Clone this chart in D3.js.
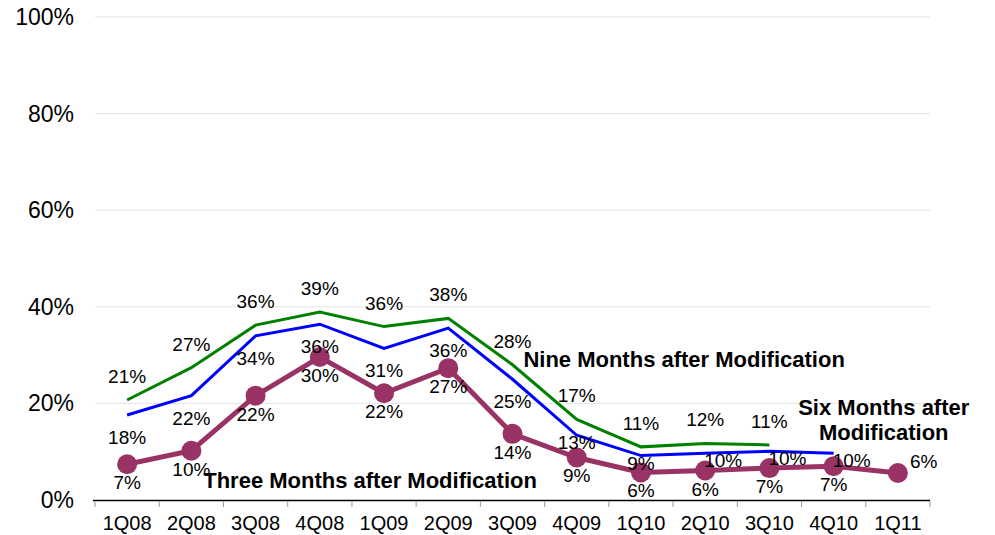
<!DOCTYPE html>
<html>
<head>
<meta charset="utf-8">
<script src="https://cdn.jsdelivr.net/npm/d3@7"></script>
<style>
  body { margin: 0; background: #fff; }
  svg { font-family: Arial, "Liberation Sans", sans-serif; }
</style>
</head>
<body>
<svg></svg>
<script>
const width = 995;
const height = 535;

// Data
const quarters = ["1Q08", "2Q08", "3Q08", "4Q08", "1Q09", "2Q09", "3Q09", "4Q09", "1Q10", "2Q10", "3Q10", "4Q10", "1Q11"];
const nineMonths = [0.207, 0.274, 0.362, 0.389, 0.359, 0.376, 0.28, 0.167, 0.11, 0.117, 0.114];
const sixMonths = [0.176, 0.216, 0.34, 0.364, 0.314, 0.356, 0.25, 0.134, 0.092, 0.097, 0.101, 0.097];
const threeMonths = [0.074, 0.102, 0.216, 0.296, 0.221, 0.273, 0.137, 0.088, 0.057, 0.061, 0.066, 0.07, 0.056];
const yTicks = [0, 0.2, 0.4, 0.6, 0.8, 1.0];

const svg = d3.select("svg")
  .attr("width", width)
  .attr("height", height);

const x = d3.scaleBand()
  .domain(quarters)
  .range([95, 930]);

const y = d3.scaleLinear()
  .domain([0, 1])
  .range([500, 17]);

const pct = d3.format(".0%");

// gridlines
svg.append("g")
  .selectAll("line")
  .data(yTicks.filter(d => d > 0))
  .enter().append("line")
  .attr("x1", 95)
  .attr("x2", 930)
  .attr("y1", d => y(d))
  .attr("y2", d => y(d))
  .attr("stroke", "#e3e3e3")
  .attr("stroke-width", 1);

// y axis labels
svg.append("g")
  .selectAll("text")
  .data(yTicks)
  .enter().append("text")
  .attr("x", 74)
  .attr("y", d => y(d) + 8)
  .attr("text-anchor", "end")
  .attr("font-size", 23)
  .attr("fill", "#000")
  .text(d => pct(d));

// x axis
svg.append("line")
  .attr("x1", 93).attr("x2", 930)
  .attr("y1", 500.5).attr("y2", 500.5)
  .attr("stroke", "#000")
  .attr("stroke-width", 1.5);

const bounds = quarters.map(q => x(q)).concat([x.range()[1]]);
svg.append("g")
  .selectAll("line")
  .data(bounds)
  .enter().append("line")
  .attr("x1", d => d).attr("x2", d => d)
  .attr("y1", 501).attr("y2", 507)
  .attr("stroke", "#999");

svg.append("g")
  .selectAll("text")
  .data(quarters)
  .enter().append("text")
  .attr("x", d => x(d) + x.bandwidth() / 2)
  .attr("y", 530)
  .attr("text-anchor", "middle")
  .attr("font-size", 20)
  .attr("fill", "#000")
  .text(d => d);

const cx = i => x(quarters[i]) + x.bandwidth() / 2;

const line = d3.line()
  .x((d, i) => cx(i))
  .y(d => y(d));

// series lines
svg.append("path")
  .datum(nineMonths)
  .attr("fill", "none")
  .attr("stroke", "#008000")
  .attr("stroke-width", 3)
  .attr("d", line);

svg.append("path")
  .datum(sixMonths)
  .attr("fill", "none")
  .attr("stroke", "#0000ff")
  .attr("stroke-width", 3)
  .attr("d", line);

svg.append("path")
  .datum(threeMonths)
  .attr("fill", "none")
  .attr("stroke", "#993366")
  .attr("stroke-width", 5)
  .attr("d", line);

svg.append("g")
  .selectAll("circle")
  .data(threeMonths)
  .enter().append("circle")
  .attr("cx", (d, i) => cx(i))
  .attr("cy", d => y(d))
  .attr("r", 10)
  .attr("fill", "#993366");

// value labels
svg.append("g")
  .selectAll("text")
  .data(nineMonths)
  .enter().append("text")
  .attr("x", (d, i) => cx(i))
  .attr("y", d => y(d) - 17)
  .attr("text-anchor", "middle")
  .attr("font-size", 19)
  .attr("fill", "#000")
  .text(d => pct(d));

// the late six-month labels drift right of their points
svg.append("g")
  .selectAll("text")
  .data(sixMonths)
  .enter().append("text")
  .attr("x", (d, i) => i >= 9 ? cx(i) + 18 : cx(i))
  .attr("y", (d, i) => i >= 7 ? y(d) + 14 : y(d) + 29)
  .attr("text-anchor", "middle")
  .attr("font-size", 19)
  .attr("fill", "#000")
  .text(d => pct(d));

// last purple label sits to the right of its marker
const last = threeMonths.length - 1;
svg.append("g")
  .selectAll("text")
  .data(threeMonths)
  .enter().append("text")
  .attr("x", (d, i) => i === last ? cx(i) + 12 : cx(i))
  .attr("y", (d, i) => i === last ? y(d) - 5 : y(d) + 25)
  .attr("text-anchor", (d, i) => i === last ? "start" : "middle")
  .attr("font-size", 19)
  .attr("fill", "#000")
  .text(d => pct(d));

// series names
const names = svg.append("g")
  .attr("font-size", 22)
  .attr("font-weight", "bold")
  .attr("fill", "#000");

names.append("text")
  .attr("x", x("3Q09") + 43)
  .attr("y", y(0.275))
  .text("Nine Months after Modification");

names.append("text")
  .attr("x", x("1Q11") + 18)
  .attr("y", y(0.175))
  .attr("text-anchor", "middle")
  .text("Six Months after");

names.append("text")
  .attr("x", x("1Q11") + 18)
  .attr("y", y(0.125))
  .attr("text-anchor", "middle")
  .text("Modification");

names.append("text")
  .attr("x", x("2Q08") + 44)
  .attr("y", y(0.025))
  .text("Three Months after Modification");
</script>
</body>
</html>
